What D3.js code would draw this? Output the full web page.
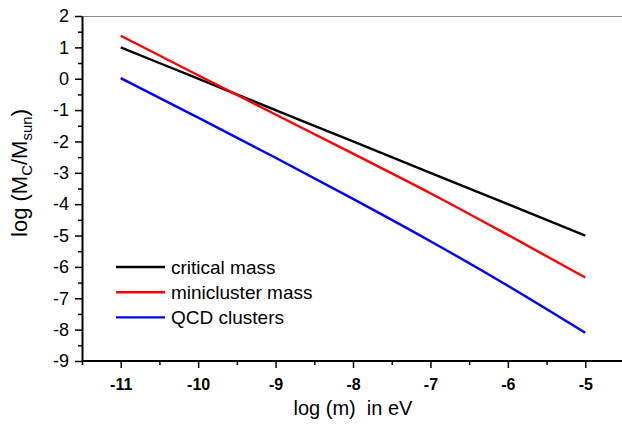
<!DOCTYPE html>
<html>
<head>
<meta charset="utf-8">
<script src="https://cdn.jsdelivr.net/npm/d3@7"></script>
<style>
  html, body { margin: 0; padding: 0; background: #fff; overflow: hidden; }
  svg { display: block; font-family: "Liberation Sans", Arial, sans-serif; }
</style>
</head>
<body>
<svg id="chart" width="622" height="426"></svg>
<script>
'use strict';

// Values
var logM = [-11, -10, -9, -8, -7, -6, -5];
var criticalMass = [1.0, 0.0, -1.0, -2.0, -3.0, -4.0, -5.0];
var miniclusterMass = [1.37, 0.11, -1.14, -2.39, -3.65, -4.98, -6.34];
var qcdClusters = [0.02, -1.24, -2.52, -3.83, -5.18, -6.6, -8.1];

var xTicks = [-11, -10, -9, -8, -7, -6, -5];
var xMinor = [-11.5, -10.5, -9.5, -8.5, -7.5, -6.5, -5.5, -4.5];
var yTicks = [2, 1, 0, -1, -2, -3, -4, -5, -6, -7, -8, -9];
var yMinor = [1.5, 0.5, -0.5, -1.5, -2.5, -3.5, -4.5, -5.5, -6.5, -7.5, -8.5];

var seriesNames = ['critical mass', 'minicluster mass', 'QCD clusters'];
var seriesColors = ['#000000', '#ff0000', '#0000ff'];

var svg = d3.select('#chart');
var plotLeft = 82, plotTop = 16, plotRight = 624, plotBottom = 361;

var x = d3.scaleLinear().domain([-11.5, -4.5]).range([plotLeft, plotRight]);
var y = d3.scaleLinear().domain([-9, 2]).range([plotBottom, plotTop]);

// top frame line
svg.append('line')
  .attr('x1', plotLeft).attr('x2', 622)
  .attr('y1', plotTop + 0.5).attr('y2', plotTop + 0.5)
  .attr('stroke', '#8a8a8a').attr('stroke-width', 1.2);

// minor ticks
svg.append('g')
  .attr('transform', 'translate(0,' + plotBottom + ')')
  .call(d3.axisBottom(x).tickValues(xMinor).tickSize(4).tickFormat(''))
  .call(function (g) { g.select('.domain').remove(); });
svg.append('g')
  .attr('transform', 'translate(' + plotLeft + ',0)')
  .call(d3.axisLeft(y).tickValues(yMinor).tickSize(4).tickFormat(''))
  .call(function (g) { g.select('.domain').remove(); });

// x axis
var xAxis = svg.append('g')
  .attr('transform', 'translate(0,' + plotBottom + ')')
  .call(d3.axisBottom(x).tickValues(xTicks).tickSize(7).tickSizeOuter(0).tickPadding(11)
    .tickFormat(function (d) { return d; }));
xAxis.selectAll('text')
  .attr('font-size', 16).attr('font-weight', 'bold').attr('fill', '#000')
  .attr('font-family', '"Liberation Sans", Arial, sans-serif');

// y axis
var yAxis = svg.append('g')
  .attr('transform', 'translate(' + plotLeft + ',0)')
  .call(d3.axisLeft(y).tickValues(yTicks).tickSize(7).tickSizeOuter(0).tickPadding(6)
    .tickFormat(function (d) { return d; }));
yAxis.selectAll('text')
  .attr('font-size', 18).attr('fill', '#000')
  .attr('font-family', '"Liberation Sans", Arial, sans-serif');

svg.selectAll('.tick line').attr('stroke', '#000').attr('stroke-width', 1.5);
svg.selectAll('.domain').attr('stroke', '#000').attr('stroke-width', 2);
xAxis.select('.domain').attr('d', 'M' + plotLeft + ',0H622');

// data lines
var line = d3.line()
  .x(function (d) { return x(d[0]); })
  .y(function (d) { return y(d[1]); })
  .curve(d3.curveMonotoneX);

[criticalMass, miniclusterMass, qcdClusters].forEach(function (vals, i) {
  svg.append('path')
    .datum(logM.map(function (m, j) { return [m, vals[j]]; }))
    .attr('fill', 'none')
    .attr('stroke', seriesColors[i])
    .attr('stroke-width', 2.4)
    .attr('d', line);
});

// legend
var legend = svg.append('g').attr('transform', 'translate(116,267)');
seriesNames.forEach(function (name, i) {
  var row = legend.append('g').attr('transform', 'translate(0,' + (i * 25.2) + ')');
  row.append('line')
    .attr('x1', 0).attr('x2', 49)
    .attr('stroke', seriesColors[i]).attr('stroke-width', 2.4);
  row.append('text')
    .attr('x', 55).attr('y', 0).attr('dy', '0.35em')
    .attr('font-size', 19).attr('fill', '#000')
    .text(name);
});

// axis titles
svg.append('text')
  .attr('x', 353).attr('y', 415)
  .attr('text-anchor', 'middle')
  .attr('font-size', 20)
  .attr('fill', '#000')
  .style('white-space', 'pre')
  .text('log (m)  in eV');

var yTitle = svg.append('text')
  .attr('transform', 'translate(27,173) rotate(-90)')
  .attr('text-anchor', 'middle')
  .attr('font-size', 22)
  .attr('fill', '#000');
yTitle.append('tspan').text('log (M');
yTitle.append('tspan').attr('font-size', 15).attr('dy', 5).text('C');
yTitle.append('tspan').attr('dy', -5).text('/M');
yTitle.append('tspan').attr('font-size', 15).attr('dy', 5).text('sun');
yTitle.append('tspan').attr('dy', -5).text(')');
</script>
</body>
</html>
